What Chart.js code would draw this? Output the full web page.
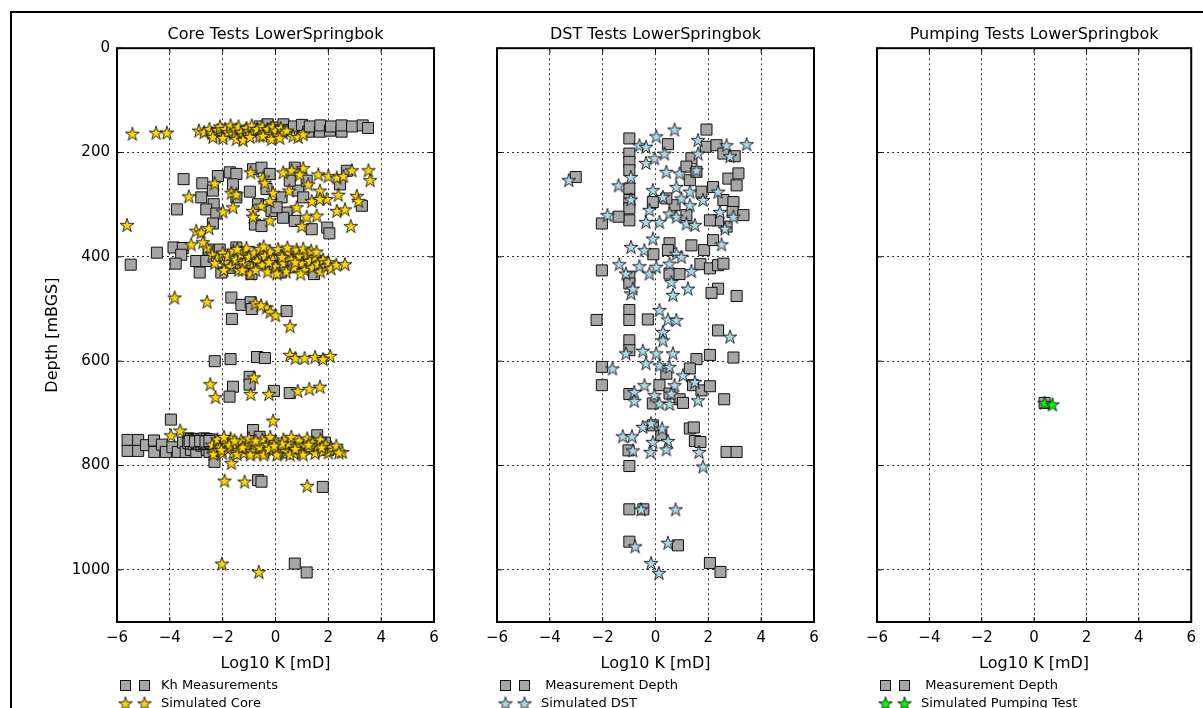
<!DOCTYPE html>
<html><head><meta charset="utf-8">
<script src="https://cdn.jsdelivr.net/npm/chart.js@4.4.1/dist/chart.umd.min.js"></script>
<style>
html,body{margin:0;padding:0;width:1203px;height:708px;overflow:hidden;background:#fff;}
#frameTop{position:absolute;left:10px;top:11px;width:1193px;height:2px;background:#000;}
#frameLeft{position:absolute;left:10px;top:11px;width:2px;height:697px;background:#000;}
canvas{position:absolute;top:0;}
</style></head><body>
<div id="frameTop"></div><div id="frameLeft"></div>
<canvas id="c1" width="461" height="708" style="left:0px"></canvas>
<canvas id="c2" width="380" height="708" style="left:461px"></canvas>
<canvas id="c3" width="362" height="708" style="left:841px"></canvas>
<script>
const FONT = 'DejaVu Sans';
const xTicks = [-6, -4, -2, 0, 2, 4, 6];
const yTicks = [0, 200, 400, 600, 800, 1000];
const panelTitles = ['Core Tests LowerSpringbok', 'DST Tests LowerSpringbok', 'Pumping Tests LowerSpringbok'];
const xAxisTitle = 'Log10 K [mD]';
const yAxisTitle = 'Depth [mBGS]';
const legendLabels = {
  coreKh: 'Kh Measurements', coreSim: 'Simulated Core',
  dstMeas: ' Measurement Depth', dstSim: 'Simulated DST',
  pumpMeas: ' Measurement Depth', pumpSim: 'Simulated Pumping Test'
};

// [log10 K, depth]
const coreKh = [
  [-0.6,150],[-0.3,146],[0.0,152],[0.3,146],[0.5,157],[0.7,150],[1.0,147],[1.24,160],[1.3,150],[1.68,160],[1.7,148],[2.06,158],[2.1,150],[2.5,160],[2.5,148],[2.9,150],[3.3,148],[3.5,153],
  [-3.48,251],[-2.77,259],[-2.18,245],[-1.73,238],[-1.48,241],[-0.97,275],[-2.81,286],[-2.37,273],[-2.34,299],[-2.62,309],[-3.73,309],[-2.24,317],[-2.37,336],[-0.85,232],[-0.53,229],[-0.22,241],[-0.34,270],[-0.66,299],[-0.15,312],[0.23,286],[0.42,315],[0.29,325],[0.73,229],[0.86,273],[0.73,331],[1.05,286],[1.18,254],[1.37,347],[1.96,344],[2.04,355],[2.44,261],[2.7,235],[3.27,302],[-0.78,338],[-0.53,341],[0.04,305],[0.54,254],[-1.61,261],[-1.48,286],
  [-4.49,392],[-5.48,415],[-3.86,382],[-3.51,383],[-3.57,396],[-3.78,413],[-3.0,408],[-2.87,430],[-2.53,386],[-2.11,386],[-2.05,430],[-1.48,382],[-1.23,395],[-0.91,433],[-0.03,414],[1.43,408],[1.46,433],[1.81,411],[-2.62,408],[-1.73,421],[-0.5,400],[0.5,420],[1.0,395],[0.2,430],[-1.0,410],
  [-1.67,478],[-1.29,492],[-0.94,487],[0.42,504],[-1.65,519],[-0.9,500],
  [-2.3,600],[-1.7,596],[-0.7,592],[-0.4,594],[-1.61,649],[-1.74,668],[-0.98,630],[-0.98,645],[-0.06,657],[0.54,661],
  [-3.96,712],[-0.85,732],[1.58,742],[1.87,756],
  [-5.6,751],[-5.6,772],[-5.2,751],[-5.2,772],[-4.9,761],[-4.59,774],[-4.6,752],[-4.3,760],[-4.15,774],[-3.9,765],[-3.7,774],[-3.5,756],[-3.4,774],[-3.2,770],[-3.0,774],[-2.8,762],[-2.6,770],[-2.5,774],[-2.31,793],
  [-3.3,748],[-3.2,749],[-3.1,750],[-3.0,751],[-2.9,749],[-2.8,750],[-2.7,748],[-2.6,749],[-2.5,751],[-2.45,750],
  [-3.3,757],[-3.2,758],[-3.1,759],[-3.0,757],[-2.9,758],[-2.8,759],[-2.7,757],[-2.6,758],[-2.5,759],[-2.45,757],
  [-3.25,753],[-3.05,754],[-2.85,753],[-2.65,754],[-2.5,753],
  [-0.6,745],[0.3,775],[1.0,765],[2.0,770],
  [-0.66,828],[-0.53,831],[1.79,841],
  [0.73,988],[1.18,1005]
];
const coreSim = [
  [-5.42,164],[-4.52,162],[-4.11,162],[-2.9,158],[-2.7,161],[-2.5,155],[-2.4,163],[-2.2,157],[-2.1,150],[-2.0,166],[-1.9,155],[-1.8,161],[-1.7,148],[-1.6,164],[-1.5,156],[-1.4,150],[-1.3,161],[-1.2,167],[-1.1,153],[-1.0,159],[-0.9,148],[-0.8,163],[-0.7,155],[-0.6,168],[-0.5,150],[-0.4,161],[-0.3,155],[-0.2,164],[-0.1,150],[0.0,158],[0.1,167],[0.2,153],[0.3,162],[0.42,158],[0.67,168],[0.86,170],[1.05,165],[-2.37,170],[-1.99,172],[-1.48,174],[-1.23,176],[-0.97,170],[-0.47,168],[-0.15,174],[0.16,172],
  [-2.3,259],[-3.28,284],[-1.99,313],[-1.61,305],[-1.67,277],[-1.48,280],[-3.0,350],[-2.81,353],[-2.52,345],[-3.19,376],[-5.62,339],[-0.94,238],[-0.47,248],[-0.41,258],[0.29,238],[0.61,234],[1.05,230],[0.92,242],[1.24,261],[1.62,242],[2.0,245],[2.32,248],[2.57,245],[2.89,234],[3.52,234],[3.58,253],[-0.09,277],[0.52,273],[1.68,273],[2.38,281],[1.37,293],[1.94,289],[3.08,283],[3.14,293],[-0.22,293],[-0.53,302],[-0.85,312],[-0.85,323],[-0.22,330],[0.8,305],[1.18,323],[1.56,321],[2.32,312],[2.63,309],[0.99,341],[2.85,341],[1.68,289],
  [-2.4,395],[-2.2,402],[-2.0,392],[-1.9,410],[-1.8,398],[-1.7,418],[-1.6,388],[-1.5,405],[-1.4,425],[-1.3,395],[-1.2,412],[-1.1,383],[-1.0,400],[-0.9,420],[-0.8,392],[-0.7,408],[-0.6,385],[-0.5,415],[-0.4,398],[-0.3,428],[-0.2,390],[-0.1,405],[0.0,418],[0.1,385],[0.2,398],[0.3,412],[0.4,428],[0.5,392],[0.6,405],[0.7,420],[0.8,386],[0.9,398],[1.0,412],[1.1,425],[1.2,395],[1.3,408],[1.4,420],[1.5,400],[1.6,414],[1.7,428],[1.8,405],[1.9,418],[2.0,410],[2.1,422],[2.3,415],[-2.3,412],[-1.95,425],[-1.45,385],[-0.95,432],[-0.45,380],[0.05,432],[0.45,382],[0.95,432],[1.05,384],[1.35,388],[-0.25,410],[0.25,400],[0.75,410],[-0.75,425],[-1.25,425],[1.55,390],[2.63,414],[-2.6,382],[-2.75,372],
  [-3.82,478],[-2.59,486],[-0.76,489],[-0.34,497],[-0.2,505],[0.0,512],[0.55,533],[-0.55,493],
  [0.55,588],[0.75,594],[1.1,594],[1.5,592],[2.07,590],[1.8,596],[-2.47,644],[-2.27,669],[-0.82,631],[-0.94,663],[-0.25,663],[0.84,657],[1.28,653],[1.68,649],
  [-0.09,714],[-3.96,742],[-3.61,733],[-1.67,795],[2.53,774],
  [-2.4,760],[-2.3,772],[-2.2,750],[-2.1,765],[-2.0,776],[-1.9,755],[-1.8,768],[-1.7,748],[-1.6,775],[-1.5,760],[-1.4,770],[-1.3,752],[-1.2,776],[-1.1,762],[-1.0,748],[-0.9,772],[-0.8,758],[-0.7,777],[-0.6,765],[-0.5,750],[-0.4,775],[-0.3,760],[-0.2,745],[-0.1,770],[0.0,755],[0.1,777],[0.2,765],[0.3,750],[0.4,772],[0.5,758],[0.6,745],[0.7,776],[0.8,762],[0.9,752],[1.0,775],[1.1,760],[1.2,748],[1.3,770],[1.4,756],[1.5,776],[1.6,762],[1.7,750],[1.8,772],[1.9,760],[2.0,775],[2.1,765],[2.2,770],[2.3,762],[2.4,775],[-2.35,778],[-1.95,745],[-1.45,778],[-0.95,779],[-0.45,779],[0.05,779],[0.55,779],[1.05,779],[-1.75,760],[-1.25,765],[-0.75,752],[-0.25,768],[0.25,758],[0.75,768],[1.25,760],[1.75,765],[-2.05,770],[-1.55,752],[-0.05,762],
  [-1.93,829],[-1.17,831],[1.2,839],
  [-2.03,988],[-0.63,1004]
];
const dstMeas = [
  [-0.99,173],[-0.99,202],[-0.99,218],[-0.99,234],[-0.99,269],[-0.99,291],[-0.99,307],[-0.99,330],[-1.4,323],[-2.03,336],[-3.02,247],[0.47,184],[1.93,156],[1.9,189],[2.31,186],[2.57,202],[3.0,207],[1.36,211],[1.17,227],[1.3,253],[1.55,237],[2.76,250],[3.14,240],[3.07,263],[2.18,266],[1.74,275],[2.57,291],[2.95,295],[2.92,314],[3.33,320],[2.69,342],[2.37,330],[2.06,330],[1.17,320],[0.72,301],[-0.1,295],[0.41,288],
  [0.53,374],[0.47,387],[1.36,378],[1.84,387],[2.18,368],[-0.08,395],[-2.03,426],[-0.99,438],[-0.99,451],[0.53,432],[0.91,433],[1.7,414],[2.06,422],[2.37,416],[2.57,413],[2.37,461],[2.12,469],[3.07,475],[-0.99,502],[-0.99,521],[-2.23,521],[-0.29,520],[2.37,541],[-0.99,560],[-0.99,579],[1.55,596],[2.06,588],[2.95,593],
  [-2.03,611],[-2.03,646],[-0.99,663],[0.15,646],[0.53,662],[0.91,673],[1.04,680],[-0.1,681],[1.3,614],[1.42,646],[1.74,656],[2.06,648],[2.6,673],[0.41,624],[1.3,729],[1.45,727],[1.49,753],[1.7,755],[0.22,742],[-0.1,723],[2.69,774],[3.07,774],[-1.02,771],[-0.99,801],[-0.99,884],[-0.46,884],[-0.99,946],[0.85,953],[2.06,987],[2.46,1004]
];
const dstSim = [
  [0.72,156],[0.03,169],[-0.61,186],[-0.36,189],[1.61,176],[2.69,186],[3.45,184],[2.82,207],[1.61,202],[-0.36,220],[-0.04,211],[0.34,202],[0.41,237],[0.91,240],[1.55,234],[-0.93,247],[-1.4,263],[-3.28,253],[-0.1,272],[0.79,266],[1.3,275],[1.8,291],[2.37,275],[-0.93,290],[0.28,285],[0.98,288],[-0.23,310],[0.53,317],[0.79,323],[1.3,301],[2.44,314],[2.95,323],[2.63,346],[-1.82,320],[-0.36,333],[0.15,333],[1.17,336],[1.49,339],
  [-0.1,365],[-0.93,381],[-0.42,387],[2.5,376],[0.79,394],[0.98,400],[-1.37,414],[-0.61,418],[-0.23,432],[0.03,419],[-1.12,432],[0.53,413],[1.36,427],[0.6,448],[1.23,461],[0.66,473],[-0.93,470],[-0.86,461],[0.15,502],[0.47,520],[0.79,521],[0.28,544],[0.28,560],[2.82,553],[-1.12,585],[-0.48,580],[0.03,585],[0.66,585],
  [-1.63,614],[-0.36,604],[0.15,608],[0.53,611],[1.04,627],[0.72,646],[1.49,640],[-0.42,646],[-0.8,659],[-0.8,676],[-0.04,665],[0.15,681],[0.53,682],[1.61,675],[0.6,662],[-0.48,726],[-0.17,719],[0.25,729],[-1.24,744],[-0.89,744],[-0.1,755],[0.47,753],[-0.86,771],[-0.19,774],[0.41,769],[1.65,774],[1.8,802],[-0.55,884],[0.76,884],[-0.77,955],[0.47,948],[-0.17,987],[0.13,1006]
];
const pumpMeas = [[0.4,680]];
const pumpSim = [[0.4,680],[0.7,683]];

const COLORS = { square: '#a6a6a6', core: '#FFD700', dst: '#ADD8E6', pump: '#00FF00' };

function makeStar(fill) {
  const R = 7.3, s = 18;
  const c = document.createElement('canvas'); c.width = s; c.height = s;
  const g = c.getContext('2d');
  g.beginPath();
  for (let i = 0; i < 10; i++) {
    const r = i % 2 === 0 ? R : R * 0.382;
    const a = -Math.PI / 2 + i * Math.PI / 5;
    const px = s / 2 + r * Math.cos(a), py = s / 2 + 0.6 + r * Math.sin(a);
    if (i) g.lineTo(px, py); else g.moveTo(px, py);
  }
  g.closePath();
  g.fillStyle = fill; g.fill();
  g.lineWidth = 0.9; g.strokeStyle = '#111'; g.stroke();
  return c;
}
const fmtX = v => v < 0 ? '\u2212' + Math.abs(v) : String(v);
const fmtY = v => String(v);

function squareDs(label, pts) {
  return { label, data: pts.map(p => ({x: p[0], y: p[1]})), pointStyle: 'rect', pointRadius: 7.8, pointHoverRadius: 7.8,
    backgroundColor: COLORS.square, borderColor: '#111', borderWidth: 1, order: 1 };
}
function starDs(label, pts, fill) {
  return { label, data: pts.map(p => ({x: p[0], y: p[1]})), pointStyle: makeStar(fill), pointRadius: 7, pointHoverRadius: 7,
    backgroundColor: fill, borderColor: '#111', borderWidth: 1, order: 0 };
}

const framePlugin = {
  id: 'mplFrame',
  afterDatasetsDraw(chart) {
    const {ctx, chartArea: a, scales: {x, y}} = chart;
    ctx.save();
    ctx.strokeStyle = '#000'; ctx.lineWidth = 1;
    ctx.beginPath();
    xTicks.forEach(v => { const px = x.getPixelForValue(v);
      ctx.moveTo(px, a.bottom); ctx.lineTo(px, a.bottom - 5); ctx.moveTo(px, a.top); ctx.lineTo(px, a.top + 5); });
    yTicks.forEach(v => { const py = y.getPixelForValue(v);
      ctx.moveTo(a.left, py); ctx.lineTo(a.left + 5, py); ctx.moveTo(a.right, py); ctx.lineTo(a.right - 5, py); });
    ctx.stroke();
    ctx.lineWidth = 2;
    ctx.strokeRect(a.left, a.top, a.right - a.left, a.bottom - a.top);
    ctx.restore();
  }
};
const legendPlugin = {
  id: 'mplLegend',
  afterDraw(chart) {
    const {ctx, chartArea: a} = chart;
    ctx.save();
    ctx.font = '13px "' + FONT + '"'; ctx.textBaseline = 'middle'; ctx.textAlign = 'left'; ctx.fillStyle = '#000';
    const rows = [1, 0];
    rows.forEach((di, r) => {
      const ds = chart.data.datasets[di];
      const yy = a.bottom + 63.5 + r * 18;
      [8.5, 27.5].forEach(dx => {
        const xx = a.left + dx;
        if (ds.pointStyle === 'rect') {
          ctx.fillStyle = ds.backgroundColor; ctx.fillRect(xx - 5, yy - 5, 10, 10);
          ctx.strokeStyle = '#111'; ctx.lineWidth = 1; ctx.strokeRect(xx - 5, yy - 5, 10, 10);
        } else {
          ctx.drawImage(ds.pointStyle, xx - 9, yy - 9);
        }
      });
      ctx.fillStyle = '#000';
      ctx.fillText(ds.label, a.left + 44, yy);
    });
    ctx.restore();
  }
};

function makeChart(id, title, datasets, yWidth, padRight, showY) {
  const tickFont = {family: FONT, size: 15};
  return new Chart(document.getElementById(id), {
    type: 'scatter',
    data: { datasets },
    options: {
      responsive: false, animation: false, events: [],
      layout: { padding: { left: 0, right: padRight, top: 0, bottom: 35 } },
      plugins: {
        legend: { display: false }, tooltip: { enabled: false },
        title: { display: true, text: title, fullSize: false, color: '#000', font: {family: FONT, size: 16, weight: 'normal'}, padding: {top: 25, bottom: 4} }
      },
      scales: {
        x: {
          type: 'linear', min: -6, max: 6,
          afterBuildTicks: s => { s.ticks = xTicks.map(v => ({value: v})); },
          afterFit: s => { s.height = 51; },
          ticks: { color: '#000', font: tickFont, padding: 7, autoSkip: false, maxRotation: 0, callback: v => fmtX(v) },
          grid: { color: 'rgba(0,0,0,0.8)', lineWidth: 1, drawTicks: false },
          border: { display: false, dash: [2, 3] },
          title: { display: true, text: xAxisTitle, color: '#000', font: {family: FONT, size: 16}, padding: {top: 0, bottom: 0} }
        },
        y: {
          type: 'linear', reverse: true, min: 0, max: 1100,
          afterBuildTicks: s => { s.ticks = yTicks.map(v => ({value: v})); },
          afterFit: s => { s.width = yWidth; },
          ticks: { display: showY, color: '#000', font: tickFont, padding: 7, callback: v => fmtY(v) },
          grid: { color: 'rgba(0,0,0,0.8)', lineWidth: 1, drawTicks: false },
          border: { display: false, dash: [2, 3] },
          title: { display: showY, text: yAxisTitle, color: '#000', font: {family: FONT, size: 16}, padding: {top: 43, bottom: 0} }
        }
      }
    },
    plugins: [framePlugin, legendPlugin]
  });
}

makeChart('c1', panelTitles[0], [starDs(legendLabels.coreSim, coreSim, COLORS.core), squareDs(legendLabels.coreKh, coreKh)], 117, 27, true);
makeChart('c2', panelTitles[1], [starDs(legendLabels.dstSim, dstSim, COLORS.dst), squareDs(legendLabels.dstMeas, dstMeas)], 36, 27, false);
makeChart('c3', panelTitles[2], [starDs(legendLabels.pumpSim, pumpSim, COLORS.pump), squareDs(legendLabels.pumpMeas, pumpMeas)], 36, 10, false);
</script>
</body></html>
